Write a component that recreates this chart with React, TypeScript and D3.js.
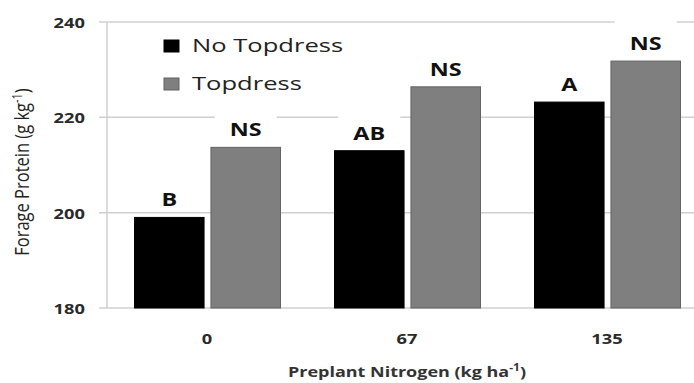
import React from "react";
import * as d3 from "d3";

// Forage protein by preplant nitrogen rate, with and without topdress
const categories = ["0", "67", "135"];
const seriesNames = ["No Topdress", "Topdress"];
const noTopdress = [199, 213, 223.2];
const topdress = [213.7, 226.4, 231.8];
const noTopdressLetters = ["B", "AB", "A"];
const topdressLetters = ["NS", "NS", "NS"];
const yTicks = [180, 200, 220, 240];

const W = 694;
const H = 383;
const FONT = "'Open Sans', 'DejaVu Sans', sans-serif";

const series = [
  { name: seriesNames[0], values: noTopdress, letters: noTopdressLetters, fill: "#000000", stroke: "#000000" },
  { name: seriesNames[1], values: topdress, letters: topdressLetters, fill: "#7f7f7f", stroke: "#626262" },
];

type STextProps = {
  x: number;
  y: number;
  sx?: number;
  size: number;
  weight?: number;
  fill?: string;
  anchor?: "start" | "middle" | "end";
  children: React.ReactNode;
};

// Text with a horizontal stretch applied around its anchor point
function SText({ x, y, sx = 1, size, weight = 400, fill = "#222", anchor = "start", children }: STextProps) {
  return (
    <text
      transform={`translate(${x},${y}) scale(${sx},1)`}
      fontSize={size}
      fontWeight={weight}
      fill={fill}
      textAnchor={anchor}
      fontFamily={FONT}
    >
      {children}
    </text>
  );
}

export default function App() {
  const left = 107;
  const bandStep = 200;
  const x = d3
    .scaleBand<string>()
    .domain(categories)
    .range([left, left + bandStep * categories.length])
    .padding(0);
  const inner = d3
    .scaleBand<string>()
    .domain(seriesNames)
    .range([27.5, 173.5])
    .paddingInner(0.09);
  const y = d3.scaleLinear().domain([180, 240]).range([308, 22]);

  const gridColor = "#d0d0d0";

  return (
    <svg
      width={W}
      height={H}
      viewBox={`0 0 ${W} ${H}`}
      style={{ position: "absolute", left: 0, top: 0, background: "#fff" }}
    >
      <rect x={0} y={0} width={W} height={H} fill="#fff" />

      {/* gridlines and y ticks */}
      {yTicks.map((t) => (
        <g key={`g${t}`}>
          <line x1={left - 8} x2={W} y1={y(t)} y2={y(t)} stroke={gridColor} strokeWidth={1.5} />
          <SText x={85} y={y(t) + 6} sx={1.22} size={15} weight={700} anchor="end" fill="#2a2a2a">
            {t}
          </SText>
        </g>
      ))}
      <line x1={left} x2={left} y1={y(240)} y2={y(180)} stroke={gridColor} strokeWidth={1.5} />

      {/* label backgrounds break the gridlines behind letters */}
      {categories.map((c, i) =>
        series.map((s) => {
          const cx = (x(c) as number) + (inner(s.name) as number) + inner.bandwidth() / 2;
          const base = y(s.values[i]) - 11;
          const w = 14 + 24 * s.letters[i].length;
          return (
            <rect key={`bg${c}${s.name}`} x={cx - w / 2} y={base - 32} width={w} height={36} fill="#fff" />
          );
        })
      )}

      {/* bars */}
      {categories.map((c, i) =>
        series.map((s) => (
          <rect
            key={`b${c}${s.name}`}
            x={(x(c) as number) + (inner(s.name) as number)}
            y={y(s.values[i])}
            width={inner.bandwidth()}
            height={y(180) - y(s.values[i])}
            fill={s.fill}
            stroke={s.stroke}
            strokeWidth={1}
          />
        ))
      )}

      {/* significance letters */}
      {categories.map((c, i) =>
        series.map((s) => (
          <SText
            key={`l${c}${s.name}`}
            x={(x(c) as number) + (inner(s.name) as number) + inner.bandwidth() / 2}
            y={y(s.values[i]) - 11}
            sx={1.3}
            size={18}
            weight={700}
            anchor="middle"
            fill="#111"
          >
            {s.letters[i]}
          </SText>
        ))
      )}

      {/* x tick labels */}
      {categories.map((c) => (
        <SText
          key={`x${c}`}
          x={(x(c) as number) + x.bandwidth() / 2}
          y={344}
          sx={1.22}
          size={15}
          weight={700}
          anchor="middle"
          fill="#2a2a2a"
        >
          {c}
        </SText>
      ))}

      {/* axis titles */}
      <SText x={407} y={377} sx={1.2} size={15} weight={700} anchor="middle" fill="#333">
        Preplant Nitrogen (kg ha
        <tspan dy={-6} fontSize={10}>-1</tspan>
        <tspan dy={6}>)</tspan>
      </SText>
      <text
        transform="translate(29,172) rotate(-90) scale(1,1.25)"
        fontSize={16.5}
        fill="#222"
        textAnchor="middle"
        fontFamily={FONT}
      >
        Forage Protein (g kg
        <tspan dy={-6} fontSize={11}>-1</tspan>
        <tspan dy={6}>)</tspan>
      </text>

      {/* legend */}
      {series.map((s, i) => (
        <g key={`leg${s.name}`}>
          <rect x={164} y={40 + i * 38} width={15} height={12} fill={s.fill} stroke={s.stroke} strokeWidth={1} />
          <SText x={192} y={52 + i * 38} sx={1.42} size={18} fill="#222">
            {s.name}
          </SText>
        </g>
      ))}
    </svg>
  );
}
